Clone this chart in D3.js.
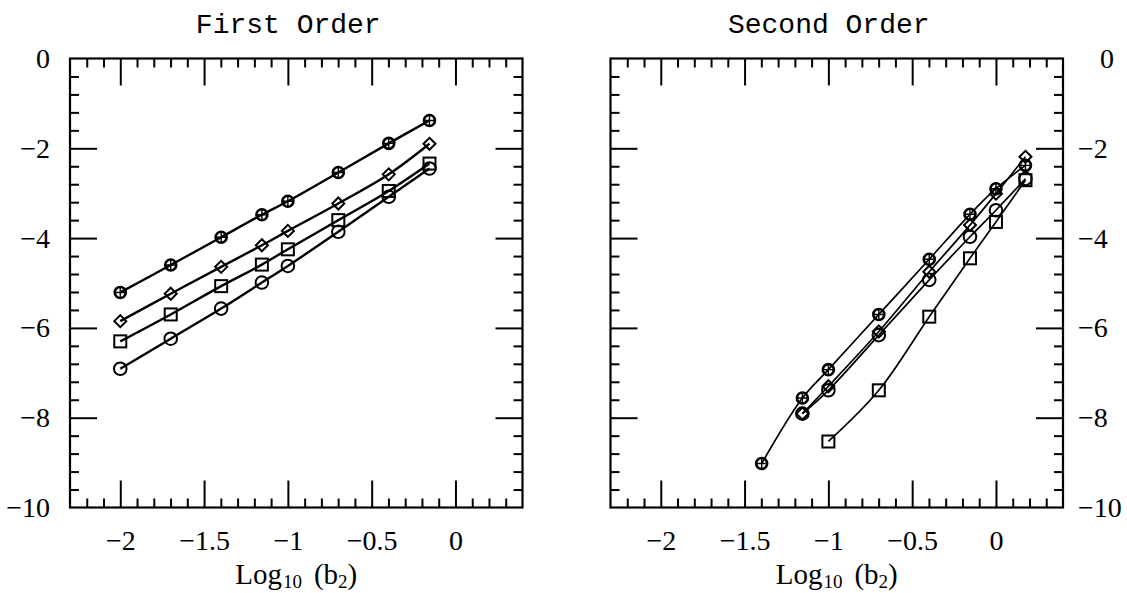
<!DOCTYPE html>
<html>
<head>
<meta charset="utf-8">
<script src="https://cdn.jsdelivr.net/npm/d3@7"></script>
<style>
  body { margin: 0; background: #fff; }
  svg { display: block; }
</style>
</head>
<body>
<div id="chart"></div>
<script>
// x positions are log10 of the b2 values used in the runs
const firstX = [-2, -1.699, -1.398, -1.155, -1, -0.699, -0.398, -0.155];
const firstCross = [-5.21, -4.60, -3.98, -3.48, -3.18, -2.54, -1.89, -1.38];
const firstDiamond = [-5.85, -5.24, -4.64, -4.16, -3.84, -3.23, -2.58, -1.90];
const firstSquare = [-6.30, -5.70, -5.07, -4.59, -4.25, -3.60, -2.95, -2.34];
const firstCircle = [-6.91, -6.24, -5.57, -4.99, -4.62, -3.86, -3.08, -2.45];

const secondX = [-1.398, -1.155, -1, -0.699, -0.398, -0.155, 0, 0.176];
const secondCross = [-9.02, -7.56, -6.93, -5.70, -4.47, -3.47, -2.90, -2.38];
const secondDiamond = [null, -7.91, -7.30, -6.08, -4.75, -3.71, -3.01, -2.19];
const secondSquare = [null, null, -8.53, -7.39, -5.75, -4.45, -3.64, -2.71];
const secondCircle = [null, -7.91, -7.39, -6.16, -4.93, -3.97, -3.38, -2.68];

const xMajor = [-2, -1.5, -1, -0.5, 0];
const yMajor = [0, -2, -4, -6, -8, -10];

const W = 1127, H = 593;
const svg = d3.select("#chart").append("svg")
    .attr("width", W)
    .attr("height", H);

const yTop = 58.5, yBottom = 507.5;
const y = d3.scaleLinear().domain([0, -10]).range([yTop, yBottom]);

const minus = v => (v < 0 ? "\u2212" + Math.abs(v) : "" + v);
const numFont = "Liberation Serif";

function panel(x0, x1, title, xs, series, yLabels, lineW) {
    const x = d3.scaleLinear().domain([-2.3, 0.4]).range([x0, x1]);
    const g = svg.append("g");

    const xMinor = d3.range(-22, 4).map(d => d / 10).filter(d => xMajor.indexOf(d) < 0);
    const yMinor = d3.range(1, 25).map(d => -d * 0.4).filter(d => Math.abs(d / 2 - Math.round(d / 2)) > 0.01);

    const addAxis = (axis, tr) => {
        const a = g.append("g").attr("transform", tr).call(axis);
        a.select(".domain").remove();
        a.selectAll(".tick line").attr("stroke", "#000").attr("stroke-width", 2);
        return a;
    };
    // minor ticks on all four sides
    addAxis(d3.axisBottom(x).tickValues(xMinor).tickSize(-9).tickFormat(""), `translate(0,${yBottom})`);
    addAxis(d3.axisTop(x).tickValues(xMinor).tickSize(-9).tickFormat(""), `translate(0,${yTop})`);
    addAxis(d3.axisLeft(y).tickValues(yMinor).tickSize(-9).tickFormat(""), `translate(${x0},0)`);
    addAxis(d3.axisRight(y).tickValues(yMinor).tickSize(-9).tickFormat(""), `translate(${x1},0)`);

    // major ticks
    const bx = addAxis(d3.axisBottom(x).tickValues(xMajor).tickSize(-27).tickPadding(23).tickFormat(minus), `translate(0,${yBottom})`);
    bx.selectAll("text").attr("font-family", numFont).attr("font-size", 28).attr("fill", "#000");
    addAxis(d3.axisTop(x).tickValues(xMajor).tickSize(-27).tickFormat(""), `translate(0,${yTop})`);
    addAxis(d3.axisLeft(y).tickValues(yMajor.slice(1, 5)).tickSize(-27).tickFormat(""), `translate(${x0},0)`);
    addAxis(d3.axisRight(y).tickValues(yMajor.slice(1, 5)).tickSize(-27).tickFormat(""), `translate(${x1},0)`);

    const labAxis = yLabels === "left"
        ? d3.axisLeft(y).tickValues(yMajor).tickSize(0).tickPadding(20).tickFormat(minus)
        : d3.axisRight(y).tickValues(yMajor).tickSize(0).tickPadding(15).tickFormat(minus);
    const la = addAxis(labAxis, `translate(${yLabels === "left" ? x0 : x1},0)`);
    la.selectAll("text").attr("font-family", numFont).attr("font-size", 28).attr("fill", "#000");
    if (yLabels === "right") la.selectAll("text").filter(d => d === 0).attr("dx", 22);

    g.append("rect")
        .attr("x", x0).attr("y", yTop)
        .attr("width", x1 - x0).attr("height", yBottom - yTop)
        .attr("fill", "none").attr("stroke", "#000").attr("stroke-width", 2.2);

    g.append("text")
        .attr("x", (x0 + x1) / 2 - 8).attr("y", 33)
        .attr("text-anchor", "middle")
        .attr("font-family", "Liberation Mono")
        .attr("font-size", 28)
        .text(title);

    const t = g.append("text")
        .attr("x", (x0 + x1) / 2).attr("y", 584)
        .attr("text-anchor", "middle")
        .attr("font-family", numFont)
        .attr("font-size", 29);
    t.append("tspan").text("Log");
    t.append("tspan").attr("font-size", 19).attr("dy", 4).attr("dx", 1).text("10");
    t.append("tspan").attr("dy", -4).attr("dx", 12).text("(b");
    t.append("tspan").attr("font-size", 19).attr("dy", 4).text("2");
    t.append("tspan").attr("dy", -4).text(")");

    const line = d3.line()
        .x(d => x(d[0])).y(d => y(d[1]))
        .curve(d3.curveCatmullRom.alpha(0.5));

    series.forEach(s => {
        const pts = xs.map((v, i) => [v, s.values[i]]).filter(d => d[1] != null);
        g.append("path")
            .attr("d", line(pts))
            .attr("fill", "none").attr("stroke", "#000").attr("stroke-width", lineW);

        const m = g.append("g").selectAll("g").data(pts).join("g")
            .attr("transform", d => `translate(${x(d[0])},${y(d[1])})`)
            .attr("fill", "none").attr("stroke", "#000");
        if (s.shape === "cross") {
            m.append("circle").attr("r", 5.5).attr("stroke-width", 2.6);
            m.append("path").attr("d", "M-5,0H5M0,-5V5").attr("stroke-width", 1.4);
        } else if (s.shape === "diamond") {
            m.append("path").attr("d", "M0,-6L6,0L0,6L-6,0Z").attr("stroke-width", 2);
        } else if (s.shape === "square") {
            m.append("rect").attr("x", -6).attr("y", -6).attr("width", 12).attr("height", 12).attr("stroke-width", 2);
        } else {
            m.append("circle").attr("r", 6.3).attr("stroke-width", 2);
        }
    });
}

panel(70, 522.5, "First Order", firstX, [
    { values: firstCross, shape: "cross" },
    { values: firstDiamond, shape: "diamond" },
    { values: firstSquare, shape: "square" },
    { values: firstCircle, shape: "circle" }
], "left", 2.4);

panel(610.5, 1063, "Second Order", secondX, [
    { values: secondCross, shape: "cross" },
    { values: secondDiamond, shape: "diamond" },
    { values: secondSquare, shape: "square" },
    { values: secondCircle, shape: "circle" }
], "right", 1.7);
</script>
</body>
</html>
